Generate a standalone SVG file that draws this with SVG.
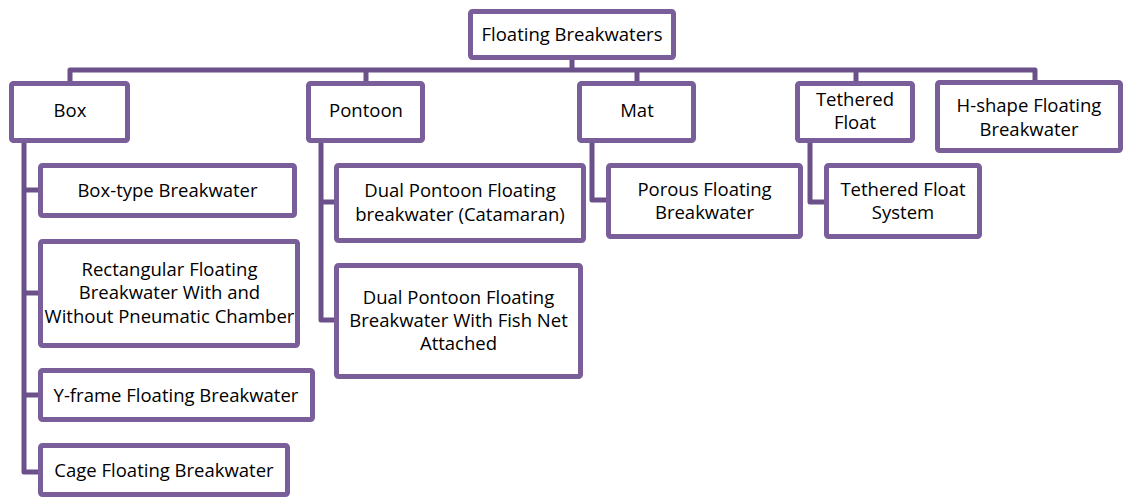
<svg xmlns="http://www.w3.org/2000/svg" width="1133" height="500" viewBox="0 0 1133 500">
<style>
.n rect{fill:#fff;stroke:#7a5e9a;stroke-width:5}
text{font-family:"Open Sans","Noto Sans","Liberation Sans",sans-serif;font-size:18.5px;fill:#000;text-anchor:middle}
.c path{fill:none;stroke:#6b5089;stroke-width:5;stroke-linejoin:round}
</style>
<rect width="1133" height="500" fill="#fff"/>
<g class="c" id="connectors">
<path d="M572,60 V70"/>
<path d="M70,81 V70 H1035 V80"/>
<path d="M366,70 V81"/>
<path d="M637,70 V81"/>
<path d="M856,70 V81"/>
<path d="M24,143 V472 H38"/>
<path d="M24,190 H38"/>
<path d="M24,293 H38"/>
<path d="M24,395 H38"/>
<path d="M321,143 V320 H334"/>
<path d="M321,202 H334"/>
<path d="M592,143 V200 H606"/>
<path d="M810,143 V202 H824"/>
</g>
<g class="n" id="root"><rect x="470.5" y="11.5" width="203" height="46" rx="2"/><text x="572" y="41">Floating Breakwaters</text></g>
<g class="n" id="box"><rect x="11.5" y="83.5" width="116" height="57" rx="2"/><text x="70" y="117">Box</text></g>
<g class="n" id="pontoon"><rect x="308.5" y="83.5" width="114" height="57" rx="2"/><text x="366" y="117">Pontoon</text></g>
<g class="n" id="mat"><rect x="579.5" y="83.5" width="114" height="57" rx="2"/><text x="637" y="117">Mat</text></g>
<g class="n" id="tethered"><rect x="797.5" y="83.5" width="115" height="57" rx="2"/><text x="855" y="106">Tethered</text><text x="855" y="129">Float</text></g>
<g class="n" id="hshape"><rect x="937.5" y="82.5" width="183" height="68" rx="2"/><text x="1029" y="112">H-shape Floating</text><text x="1029" y="136">Breakwater</text></g>
<g class="n" id="boxtype"><rect x="40.5" y="165.5" width="254" height="50" rx="2"/><text x="167.5" y="197">Box-type Breakwater</text></g>
<g class="n" id="rectangular"><rect x="40.5" y="241.5" width="257" height="104" rx="2"/><text x="169.5" y="276">Rectangular Floating</text><text x="169.5" y="299">Breakwater With and</text><text x="169.5" y="323">Without Pneumatic Chamber</text></g>
<g class="n" id="yframe"><rect x="40.5" y="370.5" width="272" height="49" rx="2"/><text x="176" y="402">Y-frame Floating Breakwater</text></g>
<g class="n" id="cage"><rect x="40.5" y="445.5" width="247" height="49" rx="2"/><text x="164" y="477">Cage Floating Breakwater</text></g>
<g class="n" id="catamaran"><rect x="336.5" y="165.5" width="247" height="75" rx="2"/><text x="460" y="197">Dual Pontoon Floating</text><text x="460" y="221">breakwater (Catamaran)</text></g>
<g class="n" id="fishnet"><rect x="336.5" y="265.5" width="244" height="111" rx="2"/><text x="458.5" y="304">Dual Pontoon Floating</text><text x="458.5" y="327">Breakwater With Fish Net</text><text x="458.5" y="350">Attached</text></g>
<g class="n" id="porous"><rect x="608.5" y="165.5" width="192" height="71" rx="2"/><text x="704.5" y="196">Porous Floating</text><text x="704.5" y="219">Breakwater</text></g>
<g class="n" id="tfs"><rect x="826.5" y="165.5" width="153" height="71" rx="2"/><text x="903" y="196">Tethered Float</text><text x="903" y="219">System</text></g>
</svg>
